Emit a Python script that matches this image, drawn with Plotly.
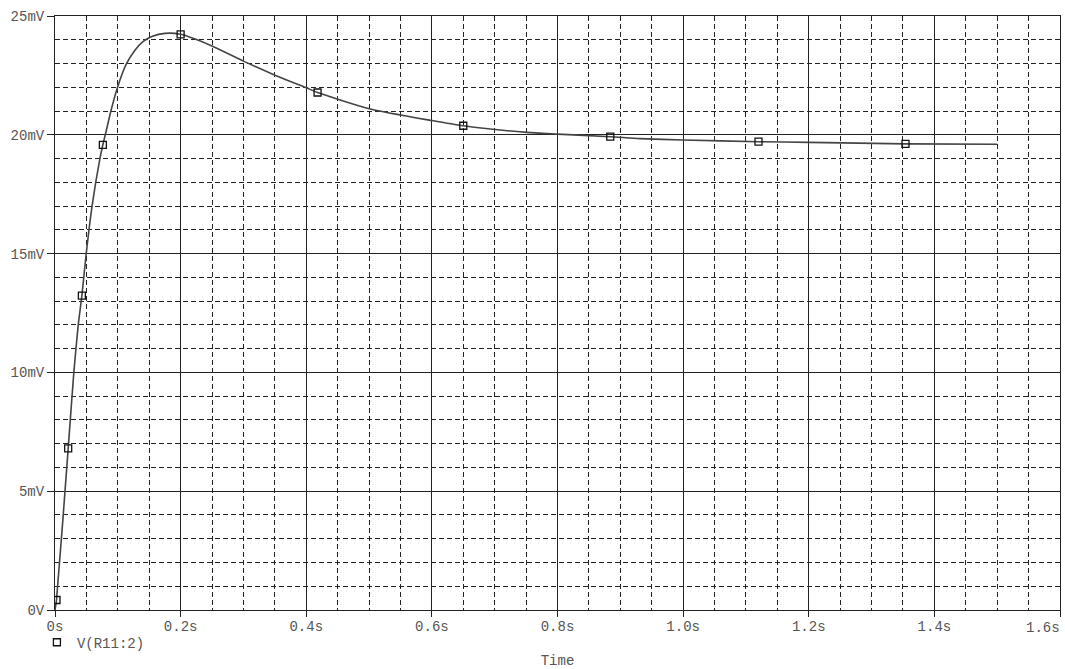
import plotly.graph_objects as go

# Transient response of node R11:2 (time in s, voltage in mV)
time_s = [0.0, 0.0024, 0.021, 0.030, 0.037, 0.0428, 0.0497, 0.059, 0.0715, 0.0762,
          0.081, 0.089, 0.0996, 0.113, 0.127, 0.14, 0.155, 0.175, 0.2,
          0.249, 0.3, 0.351, 0.4, 0.418, 0.5, 0.6, 0.65, 0.751, 0.8,
          0.884, 0.931, 1.0, 1.12, 1.2, 1.354, 1.5]
volt_mv = [0.0, 0.42, 6.8, 10.0, 12.0, 13.23, 15.0, 17.0, 19.0, 19.58,
           20.1, 21.0, 22.0, 22.95, 23.55, 23.92, 24.15, 24.27, 24.23,
           23.75, 23.1, 22.5, 21.98, 21.78, 21.1, 20.6, 20.38, 20.1, 20.03,
           19.92, 19.84, 19.78, 19.71, 19.68, 19.62, 19.6]

# Sample points where the probe marker symbols are drawn
marker_t = [0.0024, 0.021, 0.0428, 0.0762, 0.2, 0.418, 0.65, 0.884, 1.12, 1.354]
marker_mv = [0.42, 6.8, 13.23, 19.58, 24.23, 21.78, 20.38, 19.92, 19.71, 19.62]

x_ticks = [0.0, 0.2, 0.4, 0.6, 0.8, 1.0, 1.2, 1.4, 1.6]
x_labels = ["0s", "0.2s", "0.4s", "0.6s", "0.8s", "1.0s", "1.2s", "1.4s", ""]
y_ticks = [0, 5, 10, 15, 20, 25]
y_labels = ["0V", "5mV", "10mV", "15mV", "20mV", "25mV"]
trace_name = "V(R11:2)"

FONT = "Liberation Mono, Courier New, monospace"
TXT = "#555555"
GRID = "#222222"

fig = go.Figure()
fig.add_trace(go.Scatter(
    x=time_s, y=volt_mv, mode="lines",
    line=dict(color="#444444", width=1.6, shape="spline", smoothing=0.6),
    showlegend=False, hoverinfo="skip",
))
fig.add_trace(go.Scatter(
    x=marker_t, y=marker_mv, mode="markers",
    marker=dict(symbol="square-open", size=7, color="#111111", line=dict(width=1.3)),
    name=trace_name, showlegend=True,
))

axis_common = dict(
    showline=True, linecolor=GRID, linewidth=1, mirror=True,
    showgrid=True, gridcolor=GRID, gridwidth=1,
    zeroline=False, ticks="outside", tickcolor=GRID, tickwidth=1,
    tickfont=dict(family=FONT, size=14, color=TXT),
    automargin=False,
)

fig.update_xaxes(
    range=[0, 1.6], tickvals=x_ticks, ticktext=x_labels, ticklen=6,
    ticklabelstandoff=-3,
    minor=dict(dtick=0.05, showgrid=True, gridcolor=GRID, griddash="5px,3px",
               gridwidth=1, ticks=""),
    title=dict(text="Time", font=dict(family=FONT, size=14, color=TXT), standoff=21),
    **axis_common,
)
fig.update_yaxes(
    range=[0, 25], tickvals=y_ticks, ticktext=y_labels, ticklen=7,
    minor=dict(dtick=1, showgrid=True, gridcolor=GRID, griddash="5px,3px",
               gridwidth=1, ticks=""),
    **axis_common,
)

# last time label is pulled inside the right edge
fig.add_annotation(
    x=1.6, y=0, xref="x", yref="paper", text="1.6s", showarrow=False,
    xanchor="right", yanchor="top", yshift=-8, xshift=2,
    font=dict(family=FONT, size=14, color=TXT),
)

fig.update_layout(
    width=1065, height=669,
    margin=dict(l=55, r=5, t=16, b=59, autoexpand=False),
    paper_bgcolor="white", plot_bgcolor="white",
    legend=dict(x=-0.018, y=-0.028, xanchor="left", yanchor="top",
                font=dict(family=FONT, size=14, color=TXT),
                bgcolor="rgba(0,0,0,0)", itemwidth=30, tracegroupgap=0),
)

fig.write_html("out.html")
